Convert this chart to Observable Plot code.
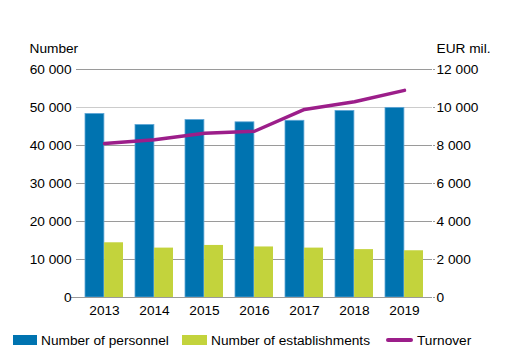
<!DOCTYPE html>
<html><head><meta charset="utf-8">
<script src="https://cdn.jsdelivr.net/npm/d3@7"></script>
<script src="https://cdn.jsdelivr.net/npm/@observablehq/plot@0.6"></script>
<style>
body{margin:0;background:#fff;font-family:"Liberation Sans",Arial,sans-serif;}
#wrap{position:relative;width:511px;height:361px;overflow:hidden;}
#chart svg{display:block;}
.legend{position:absolute;top:322px;left:0;width:511px;height:39px;font-size:13.7px;color:#000;}
.item{position:absolute;top:10px;height:16px;display:flex;align-items:center;white-space:nowrap;}
.sw{display:inline-block;margin-right:4px;}
</style>
</head><body>
<div id="wrap"><div id="chart"></div>
<div class="legend">
  <div class="item" style="left:13px"><span class="sw" style="width:24px;height:10px;background:#0073b0"></span>Number of personnel</div>
  <div class="item" style="left:182px"><span class="sw" style="width:25px;height:10px;background:#c3d33c"></span>Number of establishments</div>
  <div class="item" style="left:386px"><span class="sw" style="width:27px;height:4px;background:#9c1e8a;border-radius:2px"></span>Turnover</div>
</div></div>
<script>
const years = ["2013","2014","2015","2016","2017","2018","2019"];
const personnel = [48300, 45400, 46700, 46100, 46500, 49100, 49900];
const establishments = [14400, 13000, 13700, 13300, 13000, 12600, 12300];
const turnover = [8100, 8300, 8650, 8750, 9900, 10300, 10900];
const leftTicks = [0, 10000, 20000, 30000, 40000, 50000, 60000];
const rightTicks = [0, 2000, 4000, 6000, 8000, 10000, 12000];
const leftLabel = "Number";
const rightLabel = "EUR mil.";

const data = years.map((year, i) => ({year, personnel: personnel[i], establishments: establishments[i], turnover: turnover[i]}));
const fmt = d3.formatLocale({thousands: " ", grouping: [3], decimal: ","}).format(",");
const ratio = leftTicks[leftTicks.length - 1] / rightTicks[rightTicks.length - 1];

const W = 511, mL = 76, mR = 79, pIn = 0.245, pOut = 0.14;
const step = (W - mL - mR) / (years.length - pIn + 2 * pOut);
const half = step * (1 - pIn) / 2;
const fs = 13.7;

const plot = Plot.plot({
  width: W, height: 322,
  marginLeft: mL, marginRight: mR, marginTop: 69, marginBottom: 25,
  style: {fontFamily: '"Liberation Sans", Arial, sans-serif', fontSize: fs + "px", color: "#000", background: "#fff"},
  x: {type: "band", domain: years, paddingInner: pIn, paddingOuter: pOut, label: null},
  y: {domain: [0, 60000], label: null},
  marks: [
    Plot.ruleY(leftTicks.filter(d => d > 0), {stroke: d => d === 50000 ? "#cccccc" : "#9a9a9a", strokeWidth: 1}),
    Plot.barY(data, {x: "year", y: "personnel", fill: "#0073b0", insetRight: half, stroke: "#5ea6d6", strokeWidth: 0.8}),
    Plot.barY(data, {x: "year", y: "establishments", fill: "#c3d33c", insetLeft: half}),
    Plot.ruleY([0], {stroke: "#9a9a9a", insetLeft: -5, strokeWidth: 1}),
    Plot.line(data, {x: "year", y: d => d.turnover * ratio, stroke: "#9c1e8a", strokeWidth: 3.5, strokeLinejoin: "round"}),
    Plot.axisY(leftTicks, {anchor: "left", tickSize: 0, tickPadding: 5, tickFormat: fmt, fontSize: fs, label: null}),
    Plot.axisY(rightTicks.map(d => d * ratio), {anchor: "right", tickSize: 2, tickPadding: 2, tickFormat: d => fmt(d / ratio), fontSize: fs, label: null, stroke: "#9a9a9a"}),
    Plot.axisX({tickSize: 0, tickPadding: 8, fontSize: fs, label: null}),
    Plot.text([leftLabel], {text: d => d, frameAnchor: "top-left", textAnchor: "start", lineAnchor: "middle", dx: -47, dy: -21, fontSize: fs, fill: "#000"}),
    Plot.text([rightLabel], {text: d => d, frameAnchor: "top-right", textAnchor: "start", lineAnchor: "middle", dx: 4, dy: -21, fontSize: fs, fill: "#000"})
  ]
});
document.getElementById("chart").appendChild(plot);
</script>
</body></html>
